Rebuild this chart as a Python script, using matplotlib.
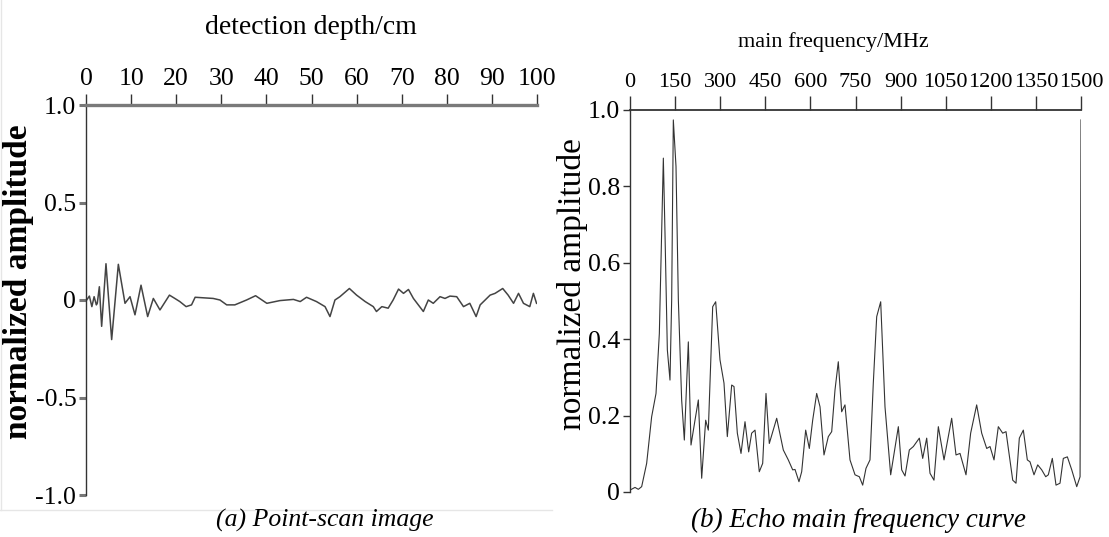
import matplotlib
matplotlib.use("Agg")
from matplotlib import pyplot as plt
from matplotlib.lines import Line2D

plt.rcParams["font.family"] = ["Liberation Serif", "DejaVu Serif"]
plt.rcParams["axes.unicode_minus"] = False

# (a) point-scan signal
depth = [0.15, 0.75, 1.3, 1.8, 2.3, 2.5, 2.96, 3.47, 4.43, 5.69, 7.17, 8.65, 9.76,
         10.86, 12.2, 13.67, 14.93, 16.4, 18.5, 19.7, 20.8, 22.2, 23.4, 24.2, 28.2,
         29.7, 31.2, 33.0, 35.6, 37.6, 40.1, 43.0, 46.0, 47.5, 48.9, 51.1, 53.0,
         54.1, 55.2, 56.3, 58.4, 60.0, 61.9, 63.7, 64.4, 65.6, 67.0, 68.1, 69.3,
         70.4, 71.5, 72.6, 74.8, 75.9, 77.0, 78.5, 79.6, 80.7, 82.2, 83.7, 85.1,
         86.5, 87.4, 88.5, 89.6, 90.7, 92.4, 93.6, 94.8, 95.9, 97.0, 98.4, 99.2, 99.9]
amp_a = [0.0, 0.02, -0.034, 0.017, -0.025, -0.017, 0.068, -0.135, 0.186, -0.203,
         0.183, -0.017, 0.017, -0.076, 0.076, -0.085, 0.008, -0.051, 0.025, 0.008,
         -0.008, -0.034, -0.025, 0.014, 0.008, 0.0, -0.025, -0.025, 0.0, 0.022,
         -0.017, -0.003, 0.003, -0.008, 0.014, -0.008, -0.034, -0.085, 0.0, 0.017,
         0.059, 0.025, -0.008, -0.034, -0.059, -0.034, -0.042, 0.0, 0.056, 0.034,
         0.054, 0.008, -0.059, 0.0, -0.017, 0.017, 0.008, 0.02, 0.017, -0.034,
         -0.017, -0.085, -0.025, 0.0, 0.025, 0.034, 0.059, 0.025, -0.017, 0.034,
         -0.017, -0.034, 0.034, -0.017]

# (b) echo main frequency curve
freq = [0, 16.6, 27.7, 38.8, 55.4, 72, 86.5, 97.6, 110.9, 116.4, 124.2, 133, 138.6,
        144.1, 153, 160.8, 171.8, 180.7, 194, 202.9, 216.2, 227.3, 238.4, 251.7,
        260.5, 275, 285, 299.3, 312.6, 323.7, 338.2, 345.9, 357, 369.2, 382.5,
        394.7, 404.6, 415.8, 430, 441.3, 452.3, 463.3, 487.9, 509.9, 526.5, 541.1,
        548.8, 562, 571, 584.3, 596.4, 607.6, 620.9, 632, 645.2, 659.6, 670.8,
        681.8, 692.8, 704, 715, 731.7, 748.4, 762.7, 773.9, 784.9, 798.2, 809.2,
        820.5, 833.8, 848.1, 867, 892.5, 903.6, 914.7, 929, 942.4, 962.3, 973.5,
        986.8, 997.8, 1011, 1025.5, 1044.4, 1069.9, 1084.3, 1097.6, 1117.5, 1133,
        1153, 1169.7, 1186.4, 1197.4, 1210.7, 1225, 1239.6, 1250.6, 1272.9, 1283.8,
        1294.9, 1308.2, 1321.5, 1330.4, 1343.7, 1356, 1369.3, 1382.6, 1391.3,
        1404.6, 1416.9, 1430.2, 1441.2, 1454.6, 1469.2, 1485.8, 1496.9, 1500]
amp_b = [0.005, 0.012, 0.007, 0.014, 0.075, 0.197, 0.258, 0.415, 0.874, 0.677,
         0.372, 0.293, 0.503, 0.974, 0.852, 0.503, 0.241, 0.136, 0.393, 0.123,
         0.188, 0.241, 0.036, 0.188, 0.162, 0.485, 0.498, 0.346, 0.285, 0.145,
         0.28, 0.276, 0.154, 0.101, 0.184, 0.105, 0.154, 0.162, 0.053, 0.075,
         0.258, 0.127, 0.193, 0.11, 0.084, 0.058, 0.059, 0.027, 0.053, 0.162,
         0.114, 0.188, 0.258, 0.223, 0.097, 0.145, 0.158, 0.267, 0.341, 0.21,
         0.228, 0.084, 0.045, 0.04, 0.018, 0.062, 0.084, 0.285, 0.459, 0.498,
         0.223, 0.045, 0.171, 0.058, 0.042, 0.11, 0.119, 0.141, 0.088, 0.141,
         0.049, 0.031, 0.171, 0.084, 0.193, 0.097, 0.101, 0.045, 0.154, 0.228,
         0.154, 0.114, 0.119, 0.084, 0.171, 0.154, 0.158, 0.031, 0.023, 0.141,
         0.162, 0.084, 0.079, 0.045, 0.071, 0.058, 0.04, 0.045, 0.088, 0.018,
         0.023, 0.088, 0.092, 0.058, 0.014, 0.04, 0.974]

depth_ticks = [0, 10, 20, 30, 40, 50, 60, 70, 80, 90, 100]
amp_a_ticks = [1.0, 0.5, 0, -0.5, -1.0]
amp_a_labels = ["1.0", "0.5", "0", "-0.5", "-1.0"]
freq_ticks = [0, 150, 300, 450, 600, 750, 900, 1050, 1200, 1350, 1500]
amp_b_ticks = [0, 0.2, 0.4, 0.6, 0.8, 1.0]
amp_b_labels = ["0", "0.2", "0.4", "0.6", "0.8", "1.0"]

W, H = 1109, 537
fig = plt.figure(figsize=(W / 100, H / 100), dpi=100)


def px(x, y):
    return x / W, 1 - y / H


def setup(ax, top_color, top_lw, ytick_color, ytick_w, ysize):
    for s in ("right", "bottom"):
        ax.spines[s].set_visible(False)
    ax.spines["top"].set_color(top_color)
    ax.spines["top"].set_linewidth(top_lw)
    ax.spines["left"].set_color("#333333")
    ax.spines["left"].set_linewidth(1.0)
    ax.xaxis.tick_top()
    ax.tick_params(axis="x", direction="out", length=8, width=1, color="#333333", pad=3)
    ax.tick_params(axis="y", direction="out", length=5, width=ytick_w, color=ytick_color,
                   labelsize=ysize, pad=2)
    ax.set_facecolor("none")


# left panel
axa = fig.add_axes([86 / W, 1 - 495 / H, 451 / W, 390 / H])
axa.plot(depth, amp_a, color="#444444", lw=1.1)
axa.set_xlim(0, 100)
axa.set_ylim(-1.0, 1.0)
setup(axa, "#7a7a7a", 2.4, "#777777", 2.2, 18.5)
axa.set_xticks(depth_ticks)
axa.set_xticklabels([str(t) for t in depth_ticks], fontsize=18.5)
axa.set_yticks(amp_a_ticks)
axa.set_yticklabels(amp_a_labels)

# right panel
axb = fig.add_axes([630 / W, 1 - 492 / H, 451 / W, 382 / H])
axb.plot(freq, amp_b, color="#333333", lw=0.8)
axb.set_xlim(0, 1500)
axb.set_ylim(0, 1.0)
setup(axb, "#333333", 1.3, "#333333", 1.0, 18.5)
axb.tick_params(axis="x", length=10)
axb.set_xticks(freq_ticks)
axb.set_xticklabels([str(t) for t in freq_ticks], fontsize=16)
axb.set_yticks(amp_b_ticks)
axb.set_yticklabels(amp_b_labels)

# axis titles and y labels
fig.text(*px(311, 28), "detection depth/cm", ha="center", va="center", fontsize=20)
fig.text(*px(833, 42), "main frequency/MHz", ha="center", va="center", fontsize=16)
fig.text(*px(19, 282), "normalized amplitude", ha="center", va="center", rotation=90,
         fontsize=24, fontweight="bold")
fig.text(*px(573, 284), "normalized amplitude", ha="center", va="center", rotation=90,
         fontsize=24)

# captions
fig.text(*px(325, 520), "(a) Point-scan image", ha="center", va="center",
         fontsize=18.5, style="italic")
fig.text(*px(858, 520), "(b) Echo main frequency curve", ha="center", va="center",
         fontsize=19.5, style="italic")

# faint frame around the left panel
fig.add_artist(Line2D([1 / W, 1 / W], [1 - 510 / H, 1], transform=fig.transFigure,
                      color="#e6e6e6", lw=1))
fig.add_artist(Line2D([0, 552 / W], [1 - 510 / H, 1 - 510 / H], transform=fig.transFigure,
                      color="#e6e6e6", lw=1))

fig.savefig("out.png", dpi=100)
